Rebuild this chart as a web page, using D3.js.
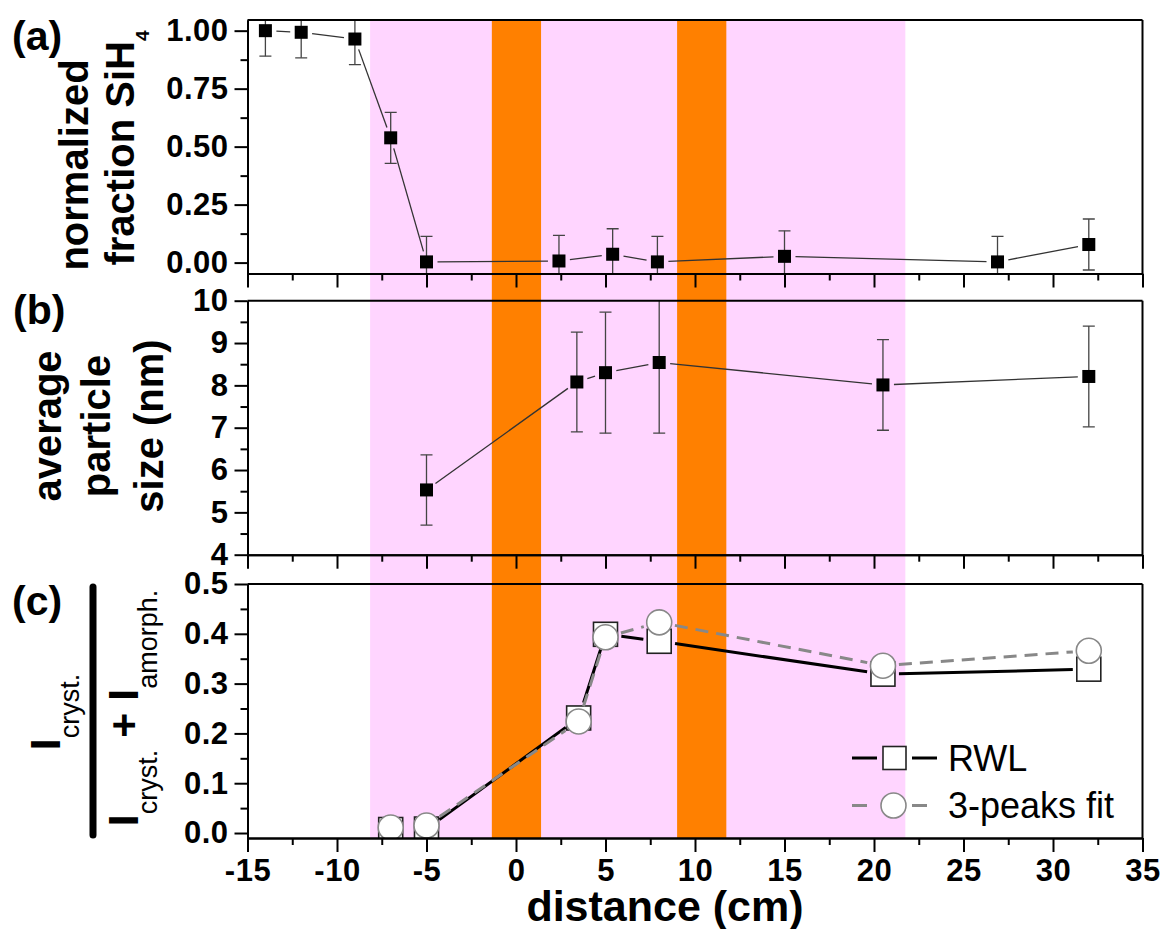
<!DOCTYPE html>
<html>
<head>
<meta charset="utf-8">
<script src="https://cdn.jsdelivr.net/npm/d3@7"></script>
<style>
  body { margin: 0; background: #fff; }
  svg { display: block; font-family: "Liberation Sans", Arial, Helvetica, sans-serif; }
</style>
</head>
<body>
<svg id="chart" width="1170" height="929"></svg>
<script>
// ---- data --------------------------------------------------------------
// (a) normalized SiH4 fraction along the reactor
const distSilane     = [-14, -12, -9, -7, -5, 2.4, 5.4, 7.9, 15, 26.9, 32];
const silaneFraction = [1.00, 0.993, 0.964, 0.538, 0.003, 0.007, 0.036, 0.003, 0.027, 0.003, 0.078];
const silaneError    = [0.11, 0.11, 0.11, 0.11, 0.11, 0.11, 0.11, 0.11, 0.11, 0.11, 0.11];

// (b) average particle size (nm)
const distSize     = [-5, 3.4, 5, 8, 20.5, 32];
const particleSize = [5.53, 8.08, 8.30, 8.54, 8.01, 8.21];
const sizeError    = [0.83, 1.18, 1.43, 1.67, 1.07, 1.19];

// (c) crystalline fraction, two evaluation methods
const distCryst = [-7, -5, 3.5, 5, 8, 20.5, 32];
const crystRWL  = [0.007, 0.008, 0.231, 0.399, 0.385, 0.319, 0.329];
const crystFit  = [0.011, 0.015, 0.224, 0.393, 0.423, 0.336, 0.366];

// shaded zones (cm)
const plasmaZone = [-8.15, 21.75];
const coilZones  = [[-1.35, 1.4], [9, 11.75]];

// tick values
const xTicks      = [-15, -10, -5, 0, 5, 10, 15, 20, 25, 30, 35];
const xMinorTicks = [-12.5, -7.5, -2.5, 2.5, 7.5, 12.5, 17.5, 22.5, 27.5, 32.5];
const silaneTicks = [0, 0.25, 0.5, 0.75, 1.0];
const silaneMinor = [0.125, 0.375, 0.625, 0.875];
const sizeTicks   = [4, 5, 6, 7, 8, 9, 10];
const sizeMinor   = [4.5, 5.5, 6.5, 7.5, 8.5, 9.5];
const crystTicks  = [0, 0.1, 0.2, 0.3, 0.4, 0.5];
const crystMinor  = [0.05, 0.15, 0.25, 0.35, 0.45];

// ---- layout ------------------------------------------------------------
const svg = d3.select("#chart");
const left = 247.5, right = 1142.5;
const x = d3.scaleLinear().domain([-15, 35]).range([left, right]);

// number formats with a plain hyphen for negatives
const hyphen = f => v => f(v).replace("\u2212", "-");

const panels = [
  { id: "a", top: 20,    bottom: 273.5, domain: [-0.047, 1.046], major: silaneTicks, minor: silaneMinor, fmt: hyphen(d3.format(".2f")) },
  { id: "b", top: 300.7, bottom: 554.7, domain: [4, 10],          major: sizeTicks,   minor: sizeMinor,   fmt: hyphen(d3.format("d")) },
  { id: "c", top: 584,   bottom: 838,   domain: [-0.01, 0.5],     major: crystTicks,  minor: crystMinor,  fmt: hyphen(d3.format(".1f")) }
];
panels.forEach(p => { p.y = d3.scaleLinear().domain(p.domain).range([p.bottom, p.top]); });

const plotTop = panels[0].top, plotBottom = panels[2].bottom;

// ---- background zones ---------------------------------------------------
svg.append("rect")
  .attr("x", x(plasmaZone[0])).attr("width", x(plasmaZone[1]) - x(plasmaZone[0]))
  .attr("y", plotTop).attr("height", plotBottom - plotTop)
  .attr("fill", "#ffd5ff");
svg.selectAll("rect.coil").data(coilZones).join("rect")
  .attr("class", "coil")
  .attr("x", d => x(d[0])).attr("width", d => x(d[1]) - x(d[0]))
  .attr("y", plotTop).attr("height", plotBottom - plotTop)
  .attr("fill", "#ff8000");

// clip paths for each plot area
const defs = svg.append("defs");
panels.forEach(p => {
  defs.append("clipPath").attr("id", "clip-" + p.id)
    .append("rect").attr("x", left).attr("y", p.top)
    .attr("width", right - left).attr("height", p.bottom - p.top);
});

// connecting line that stops short of each marker
function trimmedSegments(pts, gap, minLen) {
  const segs = [];
  for (let i = 0; i < pts.length - 1; i++) {
    const [x1, y1] = pts[i], [x2, y2] = pts[i + 1];
    const dx = x2 - x1, dy = y2 - y1, L = Math.hypot(dx, dy);
    if (L - 2 * gap < minLen) continue;
    const ux = dx / L, uy = dy / L;
    segs.push([x1 + ux * gap, y1 + uy * gap, x2 - ux * gap, y2 - uy * gap]);
  }
  return segs;
}

function drawSegments(g, segs, stroke, width, dash) {
  g.selectAll(null).data(segs).join("line")
    .attr("x1", d => d[0]).attr("y1", d => d[1])
    .attr("x2", d => d[2]).attr("y2", d => d[3])
    .attr("stroke", stroke).attr("stroke-width", width)
    .attr("stroke-dasharray", dash || null);
}

// error-bar series with filled square markers (panels a and b)
function drawErrorSeries(p, xs, ys, es) {
  const g = svg.append("g").attr("clip-path", `url(#clip-${p.id})`);
  const pts = xs.map((d, i) => [x(d), p.y(ys[i])]);
  drawSegments(g, trimmedSegments(pts, 11, 3), "#333", 1.3);
  const cap = 6;
  xs.forEach((d, i) => {
    const cx = x(d), yHi = p.y(ys[i] + es[i]), yLo = p.y(ys[i] - es[i]);
    g.append("line").attr("x1", cx).attr("x2", cx).attr("y1", yHi).attr("y2", yLo)
      .attr("stroke", "#444").attr("stroke-width", 1.3);
    [yHi, yLo].forEach(yy => {
      g.append("line").attr("x1", cx - cap).attr("x2", cx + cap).attr("y1", yy).attr("y2", yy)
        .attr("stroke", "#444").attr("stroke-width", 1.3);
    });
  });
  const s = 13;
  g.selectAll(null).data(pts).join("rect")
    .attr("x", d => d[0] - s / 2).attr("y", d => d[1] - s / 2)
    .attr("width", s).attr("height", s).attr("fill", "#000");
}

drawErrorSeries(panels[0], distSilane, silaneFraction, silaneError);
drawErrorSeries(panels[1], distSize, particleSize, sizeError);

// panel c: open squares (RWL) and open circles (3-peaks fit)
{
  const p = panels[2];
  const g = svg.append("g").attr("clip-path", "url(#clip-c)");
  const ptsR = distCryst.map((d, i) => [x(d), p.y(crystRWL[i])]);
  const ptsF = distCryst.map((d, i) => [x(d), p.y(crystFit[i])]);
  drawSegments(g, trimmedSegments(ptsR, 16, 6), "#000", 3);
  const s = 24;
  g.selectAll(null).data(ptsR).join("rect")
    .attr("x", d => d[0] - s / 2).attr("y", d => d[1] - s / 2)
    .attr("width", s).attr("height", s)
    .attr("fill", "#fff").attr("stroke", "#222").attr("stroke-width", 1.6);
  drawSegments(g, trimmedSegments(ptsF, 16, 6), "#888", 3, "13,8");
  g.selectAll(null).data(ptsF).join("circle")
    .attr("cx", d => d[0]).attr("cy", d => d[1]).attr("r", 12.5)
    .attr("fill", "#fff").attr("stroke", "#888").attr("stroke-width", 1.6);
}

// ---- axes and frames ---------------------------------------------------
function styleAxis(g) {
  g.select(".domain").attr("stroke", "#000").attr("stroke-width", 2);
  g.selectAll(".tick line").attr("stroke", "#000").attr("stroke-width", 2);
  g.selectAll(".tick text").attr("fill", "#000").attr("font-size", 31).attr("font-weight", "bold")
    .attr("letter-spacing", 0.5)
    .attr("font-family", '"Liberation Sans", Arial, sans-serif');
}

panels.forEach((p, idx) => {
  // top and right frame
  svg.append("line").attr("x1", left).attr("x2", right).attr("y1", p.top).attr("y2", p.top)
    .attr("stroke", "#000").attr("stroke-width", 2);
  svg.append("line").attr("x1", right).attr("x2", right).attr("y1", p.top).attr("y2", p.bottom)
    .attr("stroke", "#000").attr("stroke-width", 2);

  // left axis
  const gl = svg.append("g").attr("transform", `translate(${left},0)`);
  gl.call(d3.axisLeft(p.y).tickValues(p.minor).tickSize(7).tickSizeOuter(0).tickFormat(""));
  styleAxis(gl);
  const gL = svg.append("g").attr("transform", `translate(${left},0)`);
  gL.call(d3.axisLeft(p.y).tickValues(p.major).tickSize(13).tickSizeOuter(0).tickPadding(6).tickFormat(p.fmt));
  styleAxis(gL);

  // bottom axis
  const gb = svg.append("g").attr("transform", `translate(0,${p.bottom})`);
  gb.call(d3.axisBottom(x).tickValues(xMinorTicks).tickSize(7).tickSizeOuter(0).tickFormat(""));
  styleAxis(gb);
  const gB = svg.append("g").attr("transform", `translate(0,${p.bottom})`);
  gB.call(d3.axisBottom(x).tickValues(xTicks).tickSize(14).tickSizeOuter(0).tickPadding(7)
    .tickFormat(idx === 2 ? hyphen(d3.format("d")) : ""));
  styleAxis(gB);
});

// ---- text labels -------------------------------------------------------
const bold = sel => sel.attr("font-weight", "bold").attr("fill", "#000");

// panel tags
[["(a)", 12, 50], ["(b)", 13, 324], ["(c)", 12, 615]].forEach(([t, tx, ty]) => {
  svg.append("text").attr("x", tx).attr("y", ty).attr("font-size", 41).call(bold).text(t);
});

// (a) y label
svg.append("text").attr("transform", "translate(88,165) rotate(-90)")
  .attr("text-anchor", "middle").attr("font-size", 40).call(bold).text("normalized");
{
  const t = svg.append("text").attr("transform", "translate(134,148) rotate(-90)")
    .attr("text-anchor", "middle").attr("font-size", 40).call(bold);
  t.append("tspan").text("fraction SiH");
  t.append("tspan").attr("font-size", 19).attr("dy", 15).text("4");
}

// (b) y label
[["average", 61], ["particle", 110], ["size (nm)", 163]].forEach(([t, bx]) => {
  svg.append("text").attr("transform", `translate(${bx},426) rotate(-90)`)
    .attr("text-anchor", "middle").attr("font-size", 40).call(bold).text(t);
});

// (c) y label: I_cryst / (I_cryst + I_amorph)
{
  const sub = 19;
  const num = svg.append("text").attr("transform", "translate(60,712) rotate(-90)")
    .attr("text-anchor", "middle").attr("font-size", 43).call(bold);
  num.append("tspan").text("I");
  num.append("tspan").attr("font-size", 27).attr("font-weight", "normal").attr("dy", sub).text("cryst.");

  svg.append("line").attr("x1", 93).attr("x2", 93).attr("y1", 587).attr("y2", 835)
    .attr("stroke", "#000").attr("stroke-width", 7).attr("stroke-linecap", "round");

  const den = svg.append("text").attr("transform", "translate(138,708) rotate(-90)")
    .attr("text-anchor", "middle").attr("font-size", 43).call(bold);
  den.append("tspan").text("I");
  den.append("tspan").attr("font-size", 27).attr("font-weight", "normal").attr("dy", sub).text("cryst.");
  den.append("tspan").attr("dy", -sub).text("\u00a0+\u00a0");
  den.append("tspan").text("I");
  den.append("tspan").attr("font-size", 27).attr("font-weight", "normal").attr("dy", sub).text("amorph.");
}

// x axis title
svg.append("text").attr("x", 665).attr("y", 921).attr("text-anchor", "middle")
  .attr("font-size", 43).call(bold).text("distance (cm)");

// ---- legend ------------------------------------------------------------
{
  const lg = svg.append("g");
  const rowR = 758, rowF = 805.5;
  lg.append("line").attr("x1", 852).attr("x2", 877).attr("y1", rowR).attr("y2", rowR)
    .attr("stroke", "#000").attr("stroke-width", 3);
  lg.append("line").attr("x1", 912).attr("x2", 937).attr("y1", rowR).attr("y2", rowR)
    .attr("stroke", "#000").attr("stroke-width", 3);
  lg.append("rect").attr("x", 894.5 - 11.5).attr("y", rowR - 11.5).attr("width", 23).attr("height", 23)
    .attr("fill", "#fff").attr("stroke", "#222").attr("stroke-width", 1.6);
  lg.append("text").attr("x", 948).attr("y", rowR + 13).attr("font-size", 36).attr("fill", "#000").text("RWL");

  lg.append("line").attr("x1", 852).attr("x2", 867).attr("y1", rowF).attr("y2", rowF)
    .attr("stroke", "#888").attr("stroke-width", 3);
  lg.append("line").attr("x1", 912).attr("x2", 927).attr("y1", rowF).attr("y2", rowF)
    .attr("stroke", "#888").attr("stroke-width", 3);
  lg.append("circle").attr("cx", 893.5).attr("cy", rowF).attr("r", 12.5)
    .attr("fill", "#fff").attr("stroke", "#888").attr("stroke-width", 1.6);
  lg.append("text").attr("x", 948).attr("y", rowF + 12.5).attr("font-size", 36).attr("fill", "#000").text("3-peaks fit");
}
</script>
</body>
</html>
